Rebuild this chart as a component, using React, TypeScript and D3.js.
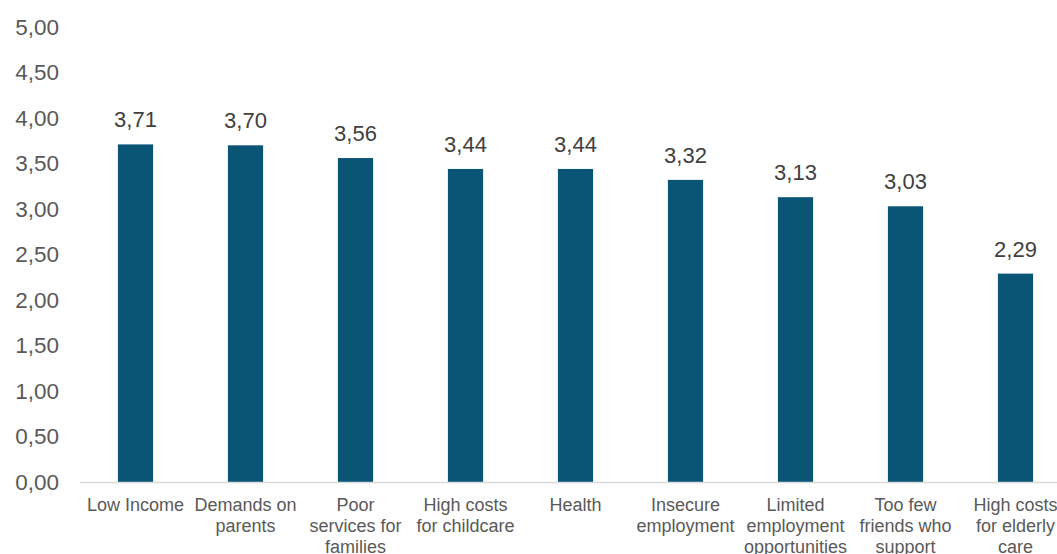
import React from "react";
import * as d3 from "d3";

const categories: string[][] = [
  ["Low Income"],
  ["Demands on", "parents"],
  ["Poor", "services for", "families"],
  ["High costs", "for childcare"],
  ["Health"],
  ["Insecure", "employment"],
  ["Limited", "employment", "opportunities"],
  ["Too few", "friends who", "support"],
  ["High costs", "for elderly", "care"],
];
const values: number[] = [3.71, 3.7, 3.56, 3.44, 3.44, 3.32, 3.13, 3.03, 2.29];
const yTicks: number[] = [0, 0.5, 1, 1.5, 2, 2.5, 3, 3.5, 4, 4.5, 5];

const W = 1057;
const H = 554;
const fmt = (v: number) => v.toFixed(2).replace(".", ",");

export default function App() {
  const x = d3
    .scaleBand<number>()
    .domain(values.map((_, i) => i))
    .range([80.5, 1070.5])
    .paddingInner(0.68)
    .paddingOuter(0.34);
  const y = d3.scaleLinear().domain([0, 5]).range([482, 27]);
  const font = "'Liberation Sans', Arial, sans-serif";
  return (
    <svg
      width={W}
      height={H}
      style={{ position: "absolute", left: 0, top: 0, background: "#fff" }}
      fontFamily={font}
    >
      {yTicks.map((t) => (
        <text
          key={t}
          x={59}
          y={y(t)}
          dy="0.35em"
          textAnchor="end"
          fontSize={22.5}
          fill="#595959"
        >
          {fmt(t)}
        </text>
      ))}
      {values.map((v, i) => (
        <g key={i}>
          <rect
            x={x(i)!}
            y={y(v)}
            width={x.bandwidth()}
            height={y(0) - y(v)}
            fill="#0a5576"
          />
          <text
            x={x(i)! + x.bandwidth() / 2}
            y={y(v) - 17}
            textAnchor="middle"
            fontSize={22}
            fill="#404040"
          >
            {fmt(v)}
          </text>
          {categories[i].map((line, j) => (
            <text
              key={j}
              x={x(i)! + x.bandwidth() / 2}
              y={511 + j * 21}
              textAnchor="middle"
              fontSize={18}
              fill="#595959"
            >
              {line}
            </text>
          ))}
        </g>
      ))}
      <line x1={80} x2={W} y1={y(0) + 0.5} y2={y(0) + 0.5} stroke="#d9d9d9" strokeWidth={1.5} />
    </svg>
  );
}
